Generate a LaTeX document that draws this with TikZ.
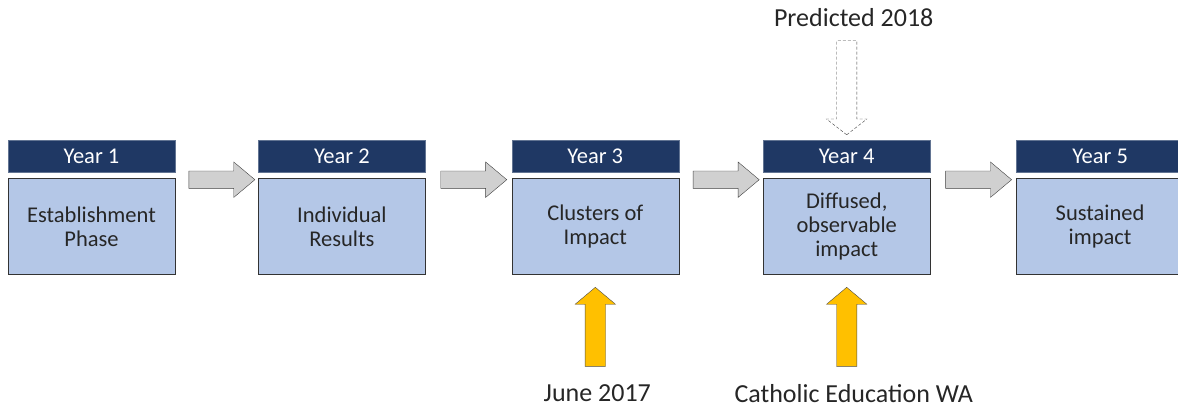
\documentclass[tikz,border=0pt]{standalone}
\usepackage{fontspec}
\setmainfont{Carlito}
\usepackage{xcolor}
\usetikzlibrary{shapes.arrows, positioning, calc}

\definecolor{headblue}{HTML}{1F3864}
\definecolor{bodyblue}{HTML}{B4C7E7}
\definecolor{arrowgray}{HTML}{D0D0D0}
\definecolor{markyellow}{HTML}{FFC000}

\tikzset{
  yearhead/.style={rectangle, draw=headblue!70!white, fill=headblue, text=white, minimum width=167pt, minimum height=32pt, inner sep=0pt, font=\fontsize{22.5}{26}\selectfont},
  yearbody/.style={rectangle, draw=black!80, fill=bodyblue, text=black!85, minimum width=167pt, minimum height=96pt, align=center, inner sep=0pt, font=\fontsize{22.5}{24}\selectfont},
  steparrow/.style={single arrow, draw=black!75, fill=arrowgray, minimum height=66pt, single arrow head extend=9pt, single arrow tip angle=80, inner xsep=0pt, inner ysep=8.5pt},
  markarrow/.style={single arrow, draw=black!70, fill=markyellow, rotate=90, minimum height=79pt, single arrow head extend=10pt, single arrow tip angle=100, inner xsep=0pt, inner ysep=10pt},
  predarrow/.style={single arrow, draw=black!75, dash pattern=on 3pt off 2pt, fill=white, rotate=-90, minimum height=94pt, single arrow head extend=10pt, single arrow tip angle=104, inner xsep=0pt, inner ysep=10pt},
  marklabel/.style={text=black!85, inner sep=0pt, font=\fontsize{26}{30}\selectfont}
}

\begin{document}
\begin{tikzpicture}[x=1pt, y=-1pt]
\useasboundingbox (0,0) rectangle (1178,407);
\clip (0,0) rectangle (1178,407);

% year headers
\node (h1) [yearhead] at (91.5,156) {Year 1};
\node (h2) [yearhead, right=83pt of h1] {Year 2};
\node (h3) [yearhead, right=86pt of h2] {Year 3};
\node (h4) [yearhead, right=84pt of h3] {Year 4};
\node (h5) [yearhead, right=86pt of h4] {Year 5};

% phase boxes
\node (b1) [yearbody, below=6pt of h1] {Establishment\\Phase};
\node (b2) [yearbody, below=6pt of h2] {Individual\\Results};
\node (b3) [yearbody, below=6pt of h3] {Clusters of\\Impact};
\node (b4) [yearbody, below=6pt of h4] {Diffused,\\observable\\impact};
\node (b5) [yearbody, below=6pt of h5] {Sustained\\impact};

% arrows between years
\node (a12) [steparrow] at ($(b1.north east)!0.5!(b2.north west)+(0,1.5)$) {};
\node (a23) [steparrow] at ($(b2.north east)!0.5!(b3.north west)+(0,1.5)$) {};
\node (a34) [steparrow] at ($(b3.north east)!0.5!(b4.north west)+(0,1.5)$) {};
\node (a45) [steparrow] at ($(b4.north east)!0.5!(b5.north west)+(0,1.5)$) {};

% milestones
\node (june) [marklabel] at ($(b3.south)+(2,119)$) {June 2017};
\node (cewa) [marklabel] at ($(b4.south)+(7,119)$) {Catholic Education WA};
\node (pred) [marklabel] at ($(h4.north)+(7,-122)$) {Predicted 2018};

\node (up3) [markarrow] at ($(b3.south)+(0,56.5)$) {};
\node (up4) [markarrow] at ($(b4.south)+(0,56.5)$) {};
\node (down4) [predarrow] at ($(h4.north)+(0,-56)$) {};
\end{tikzpicture}
\end{document}
